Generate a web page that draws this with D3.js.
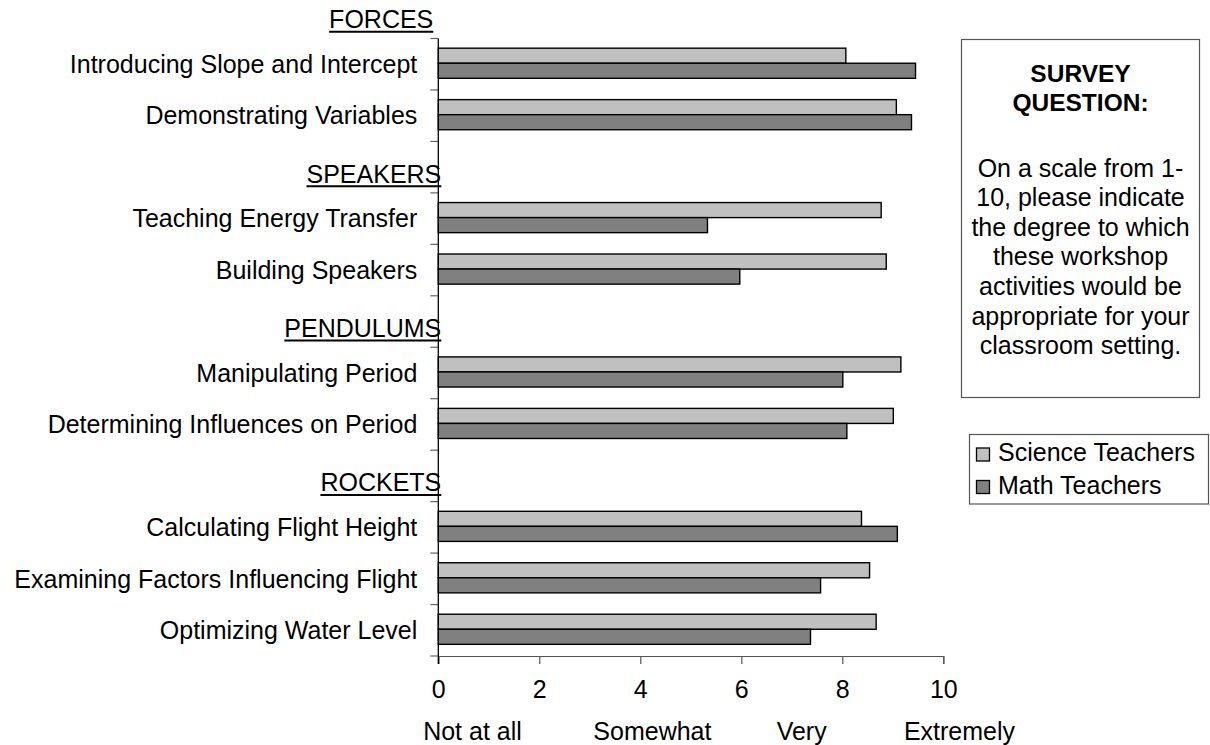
<!DOCTYPE html>
<html>
<head>
<meta charset="utf-8">
<script src="https://cdn.jsdelivr.net/npm/d3@7/dist/d3.min.js"></script>
<style>
  html, body { margin: 0; padding: 0; background: #fff; }
  svg { display: block; }
  text { font-family: "Liberation Sans", Arial, sans-serif; fill: #000; }
</style>
</head>
<body>
<svg id="chart" width="1210" height="745"></svg>
<script>
// Rows of the chart, top to bottom; section headings take their own row.
const categories = [
  "FORCES",
  "Introducing Slope and Intercept",
  "Demonstrating Variables",
  "SPEAKERS",
  "Teaching Energy Transfer",
  "Building Speakers",
  "PENDULUMS",
  "Manipulating Period",
  "Determining Influences on Period",
  "ROCKETS",
  "Calculating Flight Height",
  "Examining Factors Influencing Flight",
  "Optimizing Water Level"
];
const headers = ["FORCES", "SPEAKERS", "PENDULUMS", "ROCKETS"];

// Mean ratings (1-10); null where the row is a section heading.
const scienceTeachers = [null, 8.07, 9.07, null, 8.77, 8.87, null, 9.16, 9.01, null, 8.38, 8.54, 8.67];
const mathTeachers    = [null, 9.45, 9.37, null, 5.33, 5.97, null, 8.01, 8.09, null, 9.09, 7.57, 7.37];

const seriesNames = ["Science Teachers", "Math Teachers"];
const seriesColors = ["#c0c0c0", "#808080"];

const xTicks = [0, 2, 4, 6, 8, 10];
const scaleWords = ["Not at all", "Somewhat", "Very", "Extremely"];
const scaleWordsAt = [-0.3, 3.07, 6.7, 9.22];

const questionTitle = ["SURVEY", "QUESTION:"];
const questionText = [
  "On a scale from 1-",
  "10, please indicate",
  "the degree to which",
  "these workshop",
  "activities would be",
  "appropriate for your",
  "classroom setting."
];

const svg = d3.select("#chart");
const FONT = 25;

const x0 = 438.3, x1 = 943.3;
const yTop = 38.5, yBottom = 656;
const rowH = (yBottom - yTop) / (categories.length - 1);

const x = d3.scaleLinear().domain([0, 10]).range([x0, x1]);
const y = d3.scaleBand().domain(categories).range([yTop - rowH, yBottom]).padding(0);
const groupFrac = 0.585;
const inner = d3.scaleBand().domain(seriesNames)
  .range([(1 - groupFrac) / 2 * y.bandwidth() - 1, (1 + groupFrac) / 2 * y.bandwidth() - 1]);

// Bars
const rows = categories.map((c, i) => ({ c, vals: [scienceTeachers[i], mathTeachers[i]] }))
  .filter(r => r.vals[0] != null);

const g = svg.append("g");
rows.forEach(r => {
  r.vals.forEach((v, k) => {
    g.append("rect")
      .attr("x", x(0))
      .attr("y", y(r.c) + inner(seriesNames[k]))
      .attr("width", x(v) - x(0))
      .attr("height", inner.bandwidth())
      .attr("fill", seriesColors[k])
      .attr("stroke", "#000")
      .attr("stroke-width", 1.4);
  });
});

// Vertical axis with ticks on row boundaries
const boundaries = categories.slice(1).map(c => y(c)).concat([yBottom]);
svg.selectAll(".ytick").data(boundaries).join("line")
  .attr("x1", x0 - 8).attr("x2", x0)
  .attr("y1", d => d).attr("y2", d => d)
  .attr("stroke", "#666").attr("stroke-width", 1.2);

// Horizontal axis
const xAxis = d3.axisBottom(x).tickValues(xTicks).tickSize(8).tickPadding(16).tickFormat(d3.format("d"));
const xg = svg.append("g").attr("transform", `translate(0,${yBottom})`).call(xAxis);
xg.select(".domain").attr("stroke", "#555").attr("stroke-width", 1.2);
xg.selectAll(".tick line").attr("stroke", "#555").attr("stroke-width", 1.2);
xg.selectAll(".tick text")
  .style("font-family", '"Liberation Sans", Arial, sans-serif')
  .attr("font-size", FONT).attr("fill", "#000");

svg.append("line")
  .attr("x1", x0).attr("x2", x0)
  .attr("y1", yTop).attr("y2", yBottom + 8)
  .attr("stroke", "#000").attr("stroke-width", 1.3);

// Scale words under the numbers
svg.selectAll(".word").data(scaleWords).join("text")
  .attr("x", (d, i) => x(scaleWordsAt[i]))
  .attr("y", 740)
  .attr("font-size", FONT)
  .text(d => d);

// Row labels
categories.forEach(c => {
  const cy = y(c) + y.bandwidth() / 2;
  if (headers.includes(c)) {
    const first = c === headers[0];
    const xr = first ? x0 - 5 : x0 + 3;
    const t = svg.append("text")
      .attr("x", xr).attr("y", cy + 15.5)
      .attr("text-anchor", "end")
      .attr("font-size", FONT)
      .text(c);
    const w = t.node().getComputedTextLength();
    svg.append("line")
      .attr("x1", xr - w).attr("x2", xr)
      .attr("y1", cy + 19).attr("y2", cy + 19)
      .attr("stroke", "#000").attr("stroke-width", 2);
  } else {
    svg.append("text")
      .attr("x", x0 - 21).attr("y", cy)
      .attr("dy", "0.35em")
      .attr("text-anchor", "end")
      .attr("font-size", FONT)
      .text(c);
  }
});

// Survey question box
const qx = 961.5, qy = 39.5, qw = 238, qh = 358;
svg.append("rect").attr("x", qx).attr("y", qy).attr("width", qw).attr("height", qh)
  .attr("fill", "#fff").attr("stroke", "#555").attr("stroke-width", 1.2);
const qcx = qx + qw / 2;
questionTitle.forEach((t, i) => {
  svg.append("text").attr("x", qcx).attr("y", 81.5 + i * 29.3)
    .attr("text-anchor", "middle").attr("font-size", FONT - 0.5)
    .attr("font-weight", "bold").text(t);
});
questionText.forEach((t, i) => {
  svg.append("text").attr("x", qcx).attr("y", 176.5 + i * 29.6)
    .attr("text-anchor", "middle").attr("font-size", FONT).text(t);
});

// Legend
const lx = 969.5, ly = 434.5, lw = 239, lh = 69.5;
svg.append("rect").attr("x", lx).attr("y", ly).attr("width", lw).attr("height", lh)
  .attr("fill", "#fff").attr("stroke", "#555").attr("stroke-width", 1.2);
seriesNames.forEach((s, i) => {
  const by = 448 + i * 32.5;
  svg.append("rect").attr("x", 976.5).attr("y", by).attr("width", 13).attr("height", 13)
    .attr("fill", seriesColors[i]).attr("stroke", "#000").attr("stroke-width", 1.3);
  svg.append("text").attr("x", 998).attr("y", by + 13)
    .attr("font-size", FONT).text(s);
});
</script>
</body>
</html>
